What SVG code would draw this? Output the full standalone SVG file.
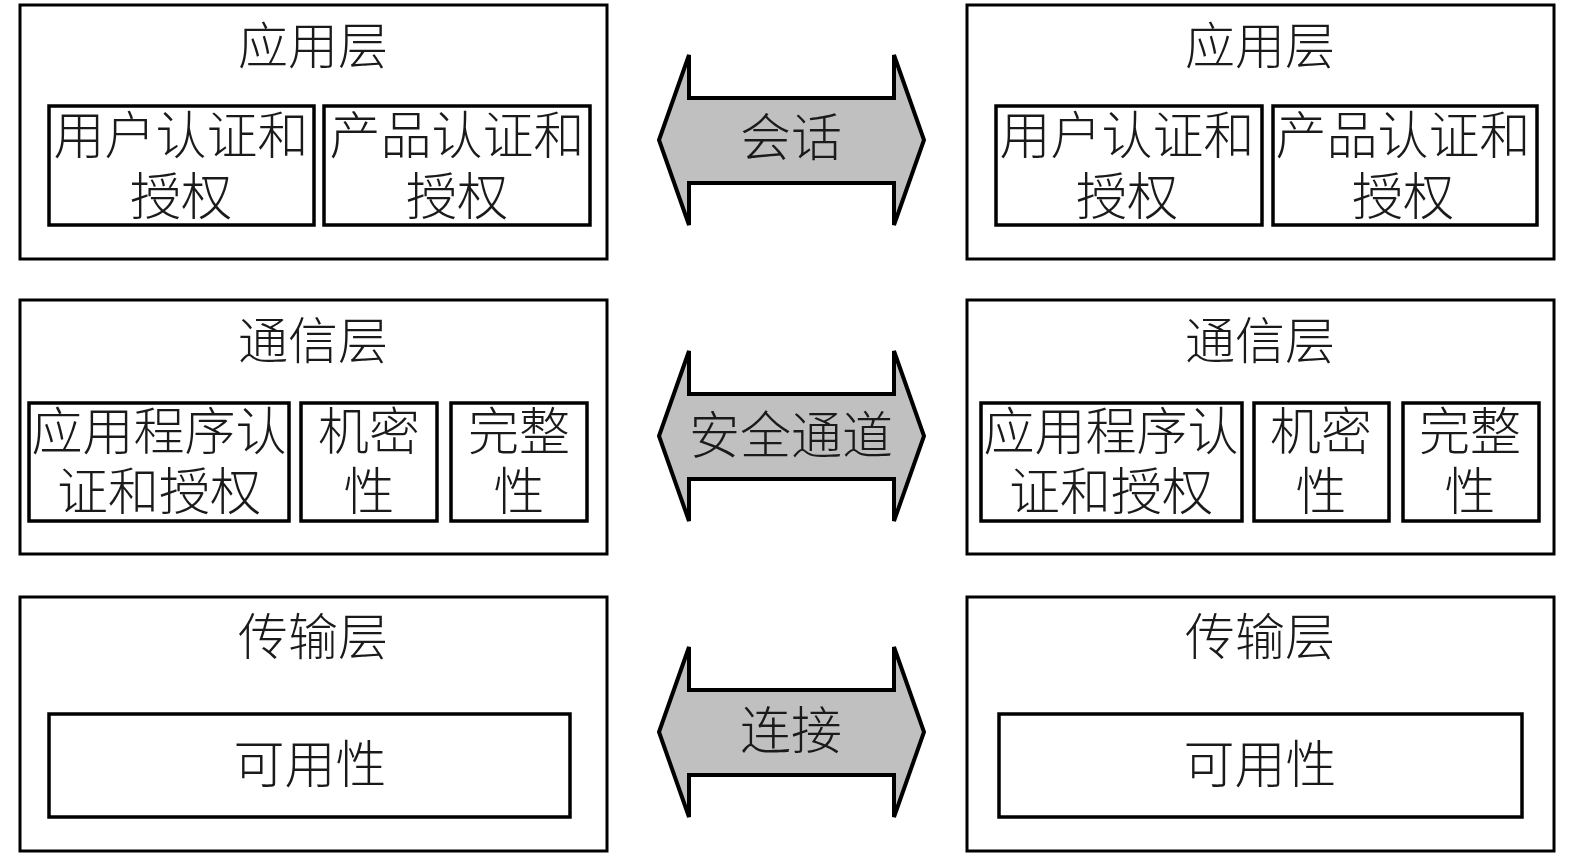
<svg xmlns="http://www.w3.org/2000/svg" width="1575" height="856" viewBox="0 0 1575 856">
<style>
.outer{fill:#fff;stroke:#000;stroke-width:3}
.inner{fill:#fff;stroke:#000;stroke-width:3.5}
.arrow{fill:#c0c0c0;stroke:#000;stroke-width:4;stroke-linejoin:miter}
text{font-family:"Noto Sans CJK SC","Noto Sans CJK JP",sans-serif;font-weight:300;fill:#1a1a1a;text-anchor:middle;dominant-baseline:central}
.t{font-size:50px}
.s{font-size:51px}
</style>
<rect width="1575" height="856" fill="#fff"/>

<g id="left-app">
<rect class="outer" x="20" y="5" width="587" height="254"/>
<text class="t" x="313" y="42">应用层</text>
<rect class="inner" x="49" y="106" width="265" height="119"/>
<text class="s" x="181" y="132">用户认证和</text>
<text class="s" x="181" y="193">授权</text>
<rect class="inner" x="324" y="106" width="266" height="119"/>
<text class="s" x="457" y="132">产品认证和</text>
<text class="s" x="457" y="193">授权</text>
</g>

<g id="left-comm">
<rect class="outer" x="20" y="300" width="587" height="254"/>
<text class="t" x="313" y="337">通信层</text>
<rect class="inner" x="29" y="403" width="260" height="118"/>
<text class="s" x="159" y="428">应用程序认</text>
<text class="s" x="159" y="488">证和授权</text>
<rect class="inner" x="301" y="403" width="136" height="118"/>
<text class="s" x="369" y="428">机密</text>
<text class="s" x="369" y="488">性</text>
<rect class="inner" x="451" y="403" width="136" height="118"/>
<text class="s" x="519" y="428">完整</text>
<text class="s" x="519" y="488">性</text>
</g>

<g id="left-trans">
<rect class="outer" x="20" y="597" width="587" height="254"/>
<text class="t" x="313" y="633">传输层</text>
<rect class="inner" x="49" y="714" width="521" height="103"/>
<text class="s" x="310" y="761">可用性</text>
</g>

<g id="right-app">
<rect class="outer" x="967" y="5" width="587" height="254"/>
<text class="t" x="1260" y="42">应用层</text>
<rect class="inner" x="996" y="106" width="266" height="119"/>
<text class="s" x="1127" y="132">用户认证和</text>
<text class="s" x="1127" y="193">授权</text>
<rect class="inner" x="1273" y="106" width="264" height="119"/>
<text class="s" x="1403" y="132">产品认证和</text>
<text class="s" x="1403" y="193">授权</text>
</g>

<g id="right-comm">
<rect class="outer" x="967" y="300" width="587" height="254"/>
<text class="t" x="1260" y="337">通信层</text>
<rect class="inner" x="981" y="403" width="261" height="118"/>
<text class="s" x="1111" y="428">应用程序认</text>
<text class="s" x="1111" y="488">证和授权</text>
<rect class="inner" x="1254" y="403" width="135" height="118"/>
<text class="s" x="1321" y="428">机密</text>
<text class="s" x="1321" y="488">性</text>
<rect class="inner" x="1403" y="403" width="136" height="118"/>
<text class="s" x="1470" y="428">完整</text>
<text class="s" x="1470" y="488">性</text>
</g>

<g id="right-trans">
<rect class="outer" x="967" y="597" width="587" height="254"/>
<text class="t" x="1260" y="633">传输层</text>
<rect class="inner" x="999" y="714" width="523" height="103"/>
<text class="s" x="1260" y="761">可用性</text>
</g>

<g id="connectors">
<g id="arrow-session">
<path class="arrow" d="M659,140 L689,55 L689,98 L894,98 L894,55 L924,140 L894,225 L894,183 L689,183 L689,225 Z"/>
<text class="s" x="791" y="134">会话</text>
</g>
<g id="arrow-channel">
<path class="arrow" d="M659,436 L689,351 L689,394 L894,394 L894,351 L924,436 L894,521 L894,479 L689,479 L689,521 Z"/>
<text class="s" x="791" y="432">安全通道</text>
</g>
<g id="arrow-connect">
<path class="arrow" d="M659,732 L689,647 L689,690 L894,690 L894,647 L924,732 L894,817 L894,775 L689,775 L689,817 Z"/>
<text class="s" x="791" y="727">连接</text>
</g>
</g>
</svg>
